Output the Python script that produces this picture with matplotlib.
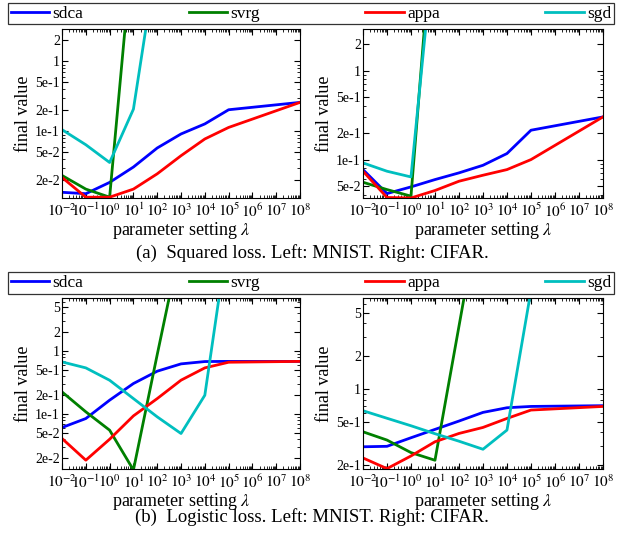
import matplotlib
matplotlib.use("Agg")
import matplotlib.pyplot as plt
import numpy as np
from matplotlib.ticker import FixedLocator, LogLocator, NullFormatter

plt.rcParams['font.family'] = 'serif'
plt.rcParams['font.serif'] = ['Liberation Serif', 'DejaVu Serif']
plt.rcParams['mathtext.fontset'] = 'stix'

nan = np.nan

# regularisation values lambda
lam = [1e-2, 1e-1, 1e0, 1e1, 1e2, 1e3, 1e4, 1e5, 1e8]
methods = ['sdca', 'svrg', 'appa', 'sgd']
colors = {'sdca': 'b', 'svrg': 'g', 'appa': 'r', 'sgd': 'c'}

# (a) squared loss, MNIST
sq_mnist_sdca = [0.0135, 0.0129, 0.0187, 0.031, 0.058, 0.092, 0.128, 0.204, 0.26]
sq_mnist_svrg = [0.0235, 0.015, 0.0115, 60, nan, nan, nan, nan, nan]
sq_mnist_appa = [0.022, 0.0115, 0.0115, 0.015, 0.0248, 0.045, 0.078, 0.114, 0.26]
sq_mnist_sgd = [0.106, 0.0645, 0.036, 0.208, 33, nan, nan, nan, nan]

# (a) squared loss, CIFAR
sq_cifar_sdca = [0.0772, 0.0415, 0.0493, 0.0596, 0.0709, 0.0863, 0.117, 0.214, 0.302]
sq_cifar_svrg = [0.0556, 0.046, 0.0388, 93, nan, nan, nan, nan, nan]
sq_cifar_appa = [0.074, 0.0375, 0.037, 0.0449, 0.0571, 0.0667, 0.0772, 0.1, 0.302]
sq_cifar_sgd = [0.0918, 0.074, 0.0638, 34, nan, nan, nan, nan, nan]

# (b) logistic loss, MNIST
lg_mnist_sdca = [0.0614, 0.0853, 0.167, 0.307, 0.482, 0.63, 0.686, 0.69, 0.69]
lg_mnist_svrg = [0.226, 0.109, 0.0557, 0.013, 0.885, 55.7, nan, nan, nan]
lg_mnist_appa = [0.0411, 0.0186, 0.04, 0.094, 0.177, 0.347, 0.544, 0.669, 0.69]
lg_mnist_sgd = [0.677, 0.544, 0.346, 0.177, 0.0907, 0.0493, 0.2, 79, nan]

# (b) logistic loss, CIFAR
lg_cifar_sdca = [0.295, 0.298, 0.357, 0.426, 0.508, 0.61, 0.673, 0.692, 0.703]
lg_cifar_svrg = [0.405, 0.34, 0.261, 0.222, 3.77, 64, nan, nan, nan]
lg_cifar_appa = [0.233, 0.186, 0.243, 0.328, 0.391, 0.444, 0.537, 0.641, 0.692]
lg_cifar_sgd = [0.632, 0.539, 0.46, 0.389, 0.332, 0.28, 0.42, 8, nan]

yticks_a_left = [0.02, 0.05, 0.1, 0.2, 0.5, 1, 2]
yticks_a_right = [0.05, 0.1, 0.2, 0.5, 1, 2]
yticks_b_left = [0.02, 0.05, 0.1, 0.2, 0.5, 1, 2, 5]
yticks_b_right = [0.2, 0.5, 1, 2, 5]


def ylab(v):
    if v >= 1:
        return '%d' % v
    e = int(np.floor(np.log10(v) + 1e-9))
    m = v / 10 ** e
    return '%de%d' % (round(m), e)


panels = [
    ([0.0994, 0.632, 0.3814, 0.314], [sq_mnist_sdca, sq_mnist_svrg, sq_mnist_appa, sq_mnist_sgd], (0.0112, 2.9), yticks_a_left),
    ([0.5817, 0.632, 0.3846, 0.314], [sq_cifar_sdca, sq_cifar_svrg, sq_cifar_appa, sq_cifar_sgd], (0.037, 2.94), yticks_a_right),
    ([0.0994, 0.128, 0.3814, 0.318], [lg_mnist_sdca, lg_mnist_svrg, lg_mnist_appa, lg_mnist_sgd], (0.0134, 7.0), yticks_b_left),
    ([0.5817, 0.128, 0.3846, 0.318], [lg_cifar_sdca, lg_cifar_svrg, lg_cifar_appa, lg_cifar_sgd], (0.184, 6.83), yticks_b_right),
]

fig = plt.figure(figsize=(6.24, 5.38), dpi=100)
axes = []
for rect, series, ylim, yt in panels:
    ax = fig.add_axes(rect)
    for name, vals in zip(methods, series):
        ax.plot(lam, vals, color=colors[name], lw=2.0, label=name)
    ax.set_xscale('log')
    ax.set_yscale('log')
    ax.set_xlim(1e-2, 1e8)
    ax.set_ylim(*ylim)
    ax.xaxis.set_major_locator(FixedLocator([10.0 ** k for k in range(-2, 9)]))
    ax.set_xticklabels([r'$10^{%d}$' % k for k in range(-2, 9)])
    ax.xaxis.set_minor_locator(LogLocator(base=10, subs=np.arange(2, 10), numticks=20))
    ax.xaxis.set_minor_formatter(NullFormatter())
    ax.yaxis.set_major_locator(FixedLocator(yt))
    ax.set_yticklabels([ylab(v) for v in yt])
    ax.yaxis.set_minor_locator(LogLocator(base=10, subs=np.arange(1, 10), numticks=20))
    ax.yaxis.set_minor_formatter(NullFormatter())
    ax.tick_params(which='both', direction='in', top=True, right=True)
    ax.tick_params(which='major', length=4, width=0.8)
    ax.tick_params(which='minor', length=2, width=0.6)
    ax.tick_params(axis='x', pad=3, labelsize=11)
    ax.tick_params(axis='y', pad=1.5, labelsize=10)
    ax.set_xlabel(r'parameter setting $\lambda$', fontsize=13, labelpad=0)
    ax.set_ylabel('final value', fontsize=13, labelpad=2)
    axes.append(ax)

handles, labels = axes[0].get_legend_handles_labels()
for y0, h in [(0.959, 0.0316), (0.4554, 0.0372)]:
    leg = fig.legend(handles, labels, loc='center', bbox_to_anchor=(0.0128, y0, 0.971, h),
                     mode='expand', ncol=4, fontsize=12.5, frameon=True, fancybox=False,
                     borderaxespad=0, borderpad=0.15, handlelength=2.2, handletextpad=0.2,
                     columnspacing=1.0)
    leg.get_frame().set_edgecolor('black')
    leg.get_frame().set_linewidth(0.9)

fig.text(0.5, 1 - 253 / 538, '(a)  Squared loss. Left: MNIST. Right: CIFAR.',
         ha='center', va='center', fontsize=13.5)
fig.text(0.5, 1 - 517 / 538, '(b)  Logistic loss. Left: MNIST. Right: CIFAR.',
         ha='center', va='center', fontsize=13.5)

fig.savefig('out.png', dpi=100)
